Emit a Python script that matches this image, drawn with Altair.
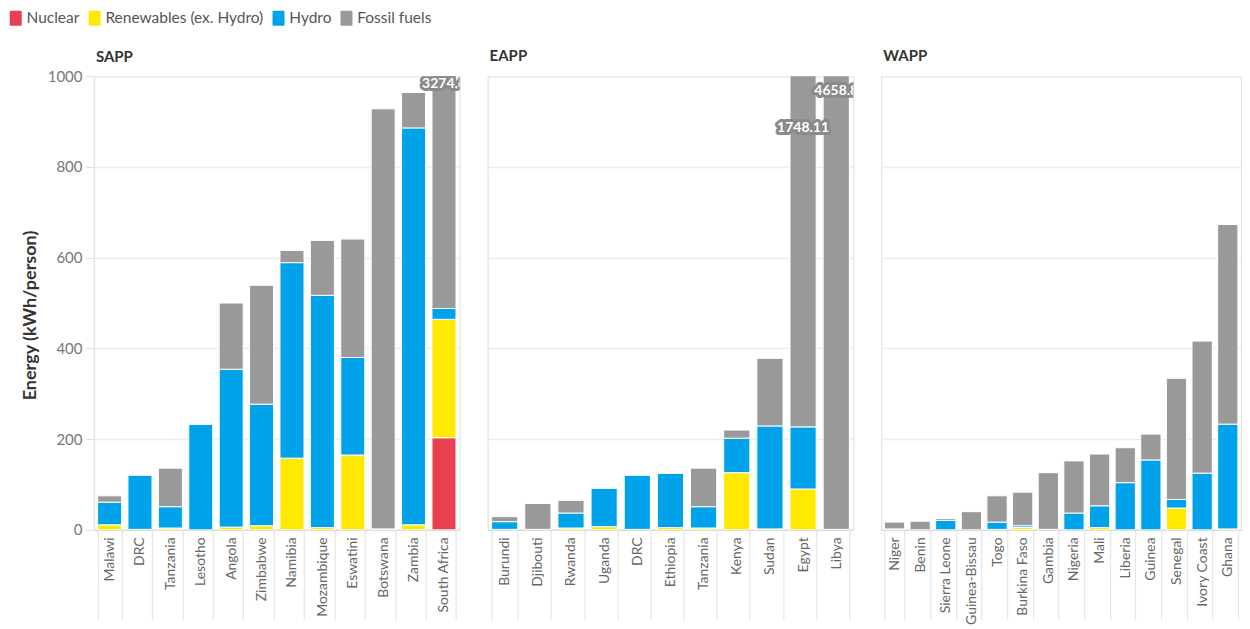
import altair as alt
import pandas as pd

FONT = "Lato"
sources = ["Nuclear", "Renewables (ex. Hydro)", "Hydro", "Fossil fuels"]
colors = ["#e8404f", "#ffe900", "#00a3ea", "#999999"]

# SAPP
sapp_countries = ["Malawi", "DRC", "Tanzania", "Lesotho", "Angola", "Zimbabwe", "Namibia",
                  "Mozambique", "Eswatini", "Botswana", "Zambia", "South Africa"]
sapp_nuclear = [0, 0, 0, 0, 0, 0, 0, 0, 0, 0, 0, 203]
sapp_renew = [11, 1, 4, 0, 6, 9, 158, 5, 165, 2, 11, 261]
sapp_hydro = [50, 120, 47, 233, 348, 268, 431, 512, 215, 0, 875, 24]
sapp_fossil = [14, 0, 85, 0, 146, 262, 27, 121, 261, 926, 78, 2786.6]

# EAPP
eapp_countries = ["Burundi", "Djibouti", "Rwanda", "Uganda", "DRC", "Ethiopia", "Tanzania",
                  "Kenya", "Sudan", "Egypt", "Libya"]
eapp_nuclear = [0] * 11
eapp_renew = [1, 1, 4, 7, 1, 5, 4, 126, 2, 90, 1]
eapp_hydro = [17, 0, 33, 85, 120, 120, 47, 76, 227, 137, 0]
eapp_fossil = [11, 57, 28, 0, 0, 0, 85, 18, 149, 1521.11, 4657.8]

# WAPP
wapp_countries = ["Niger", "Benin", "Sierra Leone", "Guinea-Bissau", "Togo", "Burkina Faso",
                  "Gambia", "Nigeria", "Mali", "Liberia", "Guinea", "Senegal", "Ivory Coast", "Ghana"]
wapp_nuclear = [0] * 14
wapp_renew = [2, 0, 0, 0, 1, 5, 1, 0, 5, 0, 0, 48, 0, 2]
wapp_hydro = [0, 0, 21, 0, 16, 4, 0, 37, 48, 104, 154, 19, 125, 231]
wapp_fossil = [15, 19, 4, 40, 58, 74, 125, 115, 114, 77, 57, 267, 291, 440]

# Labels for bars that exceed the axis (totals)
label_region = ["SAPP", "EAPP", "EAPP"]
label_country = ["South Africa", "Egypt", "Libya"]
label_text = ["3274.6", "1748.11", "4658.8"]

# vertical offset (px) of each label below the top of the plot (styling only)
label_dy = {"South Africa": 8, "Libya": 15, "Egypt": 52}

regions = {
    "SAPP": (sapp_countries, [sapp_nuclear, sapp_renew, sapp_hydro, sapp_fossil]),
    "EAPP": (eapp_countries, [eapp_nuclear, eapp_renew, eapp_hydro, eapp_fossil]),
    "WAPP": (wapp_countries, [wapp_nuclear, wapp_renew, wapp_hydro, wapp_fossil]),
}
panel_width = {"SAPP": 366, "EAPP": 366, "WAPP": 360}

rows = []
for reg, (countries, series) in regions.items():
    for si, (src, vals) in enumerate(zip(sources, series)):
        for c, v in zip(countries, vals):
            rows.append({"region": reg, "country": c, "source": src, "order": si, "value": v})
df = pd.DataFrame(rows)
labels = pd.DataFrame({"region": label_region, "country": label_country,
                       "label": label_text})

color_scale = alt.Scale(domain=sources, range=colors)
rounded = ("M-0.65,-1 L0.65,-1 Q0.8,-1 0.8,-0.85 L0.8,0.85 Q0.8,1 0.65,1 "
           "L-0.65,1 Q-0.8,1 -0.8,0.85 L-0.8,-0.85 Q-0.8,-1 -0.65,-1 Z")


def panel(reg, first):
    countries = regions[reg][0]
    x = alt.X("country:N", sort=countries, title=None,
              scale=alt.Scale(paddingInner=0.21, paddingOuter=0.12),
              axis=alt.Axis(labelAngle=-90, labelFontSize=14, labelColor="#666",
                            labelFont=FONT, labelPadding=-83, tickBand="extent",
                            tickSize=90, tickColor="#e6e6e6", tickWidth=1.2,
                            domainColor="#dddddd", domainWidth=1.5, grid=False))
    if first:
        yaxis = alt.Axis(values=[0, 200, 400, 600, 800, 1000], format="d",
                         title="Energy (kWh/person)", titleY=239,
                         titleFontSize=18, titleFont=FONT, titleFontWeight="bold",
                         titleColor="#333", titlePadding=8, labelFontSize=15,
                         labelColor="#777", labelFont=FONT, tickColor="#dddddd",
                         tickSize=8, labelPadding=4, domainColor="#e3e3e3",
                         domainWidth=1.5, gridColor="#ececec", gridWidth=1.5)
    else:
        yaxis = alt.Axis(values=[0, 200, 400, 600, 800, 1000], title=None, labels=False,
                         ticks=False, domain=False, gridColor="#ececec", gridWidth=1.5)
    y = alt.Y("value:Q", stack="zero", scale=alt.Scale(domain=[0, 1000], nice=False),
              axis=yaxis)
    bars = alt.Chart(df).transform_filter(alt.datum.region == reg).mark_bar(
        clip=True, stroke="white", strokeWidth=1
    ).encode(
        x=x, y=y,
        color=alt.Color("source:N", scale=color_scale, title=None,
                        legend=alt.Legend(orient="none", legendX=-86, legendY=-66,
                                          direction="horizontal", padding=0,
                                          symbolType=rounded, symbolSize=225,
                                          symbolStrokeWidth=0, symbolOpacity=1,
                                          labelFontSize=15.5, labelColor="#555",
                                          labelFont=FONT, columnPadding=7,
                                          labelOffset=3) if first else None),
        order=alt.Order("order:Q", sort="ascending"),
    )
    layers = [bars]
    sub = labels[labels.region == reg]
    for c in sub.country:
        s = sub[sub.country == c]
        base = alt.Chart(s).encode(
            x=alt.X("country:N", sort=countries),
            y=alt.datum(1000),
            text="label:N",
        )
        dy = label_dy[c]
        halo = base.mark_text(clip=True, font=FONT, fontWeight="bold", fontSize=14,
                              baseline="middle", dy=dy, stroke="#8a8a8a",
                              strokeWidth=6, strokeJoin="round", fill="#8a8a8a")
        txt = base.mark_text(clip=True, font=FONT, fontWeight="bold", fontSize=14,
                             baseline="middle", dy=dy, fill="white")
        layers += [halo, txt]
    return alt.layer(*layers).properties(
        width=panel_width[reg], height=454,
        title=alt.TitleParams(reg, anchor="start", frame="group", fontSize=15, font=FONT,
                              fontWeight="bold", color="#333",
                              offset=4 if first else 12, dx=2),
    )


chart = alt.hconcat(panel("SAPP", True), panel("EAPP", False), panel("WAPP", False),
                    spacing=28, bounds="flush").configure_view(stroke=None).configure(
    padding={"left": 0, "top": 2, "right": 0, "bottom": 0}
)

chart.save("out.html", embed_options={"renderer": "svg", "actions": False})
